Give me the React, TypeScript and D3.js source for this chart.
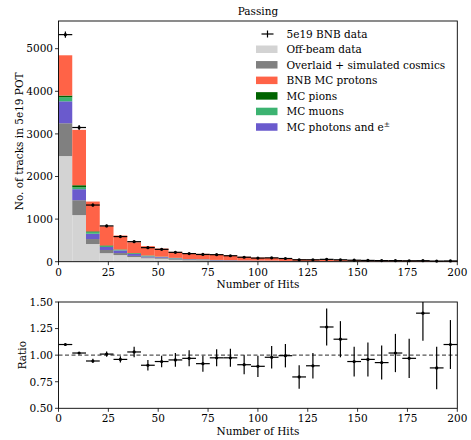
import React, { useEffect } from "react";
import * as d3 from "d3";

const binEdgesMin = 0;
const binEdgesMax = 200;
const nBins = 29;

const offBeam = [2480, 1094, 415, 200, 155, 108, 80, 70, 45, 30, 28, 15, 12, 10, 8, 5, 5, 3, 3, 2, 2, 0, 0, 0, 0, 0, 0, 0, 0];
const cosmics = [770, 350, 117, 75, 48, 28, 22, 20, 18, 14, 14, 12, 10, 8, 7, 10, 6, 8, 5, 5, 4, 4, 4, 3, 3, 2, 2, 2, 1];
const photons = [515, 258, 124, 70, 62, 45, 22, 18, 14, 12, 10, 10, 10, 8, 8, 6, 5, 4, 3, 3, 2, 2, 2, 2, 1, 1, 1, 1, 1];
const muons = [95, 46, 40, 22, 15, 16, 18, 8, 10, 4, 4, 3, 3, 2, 2, 2, 1, 1, 3, 2, 2, 5, 1, 1, 1, 1, 0, 0, 0];
const pions = [40, 47, 16, 15, 8, 6, 5, 4, 3, 2, 2, 2, 1, 1, 1, 1, 1, 1, 0, 1, 1, 0, 0, 0, 0, 0, 0, 0, 0];
const protons = [945, 1300, 700, 450, 326, 253, 218, 188, 140, 134, 127, 127, 108, 86, 69, 68, 57, 40, 36, 30, 28, 26, 24, 22, 20, 19, 14, 14, 14];
const dataCounts = [5330, 3150, 1330, 840, 590, 470, 330, 290, 220, 190, 170, 165, 140, 105, 85, 90, 75, 45, 45, 55, 45, 35, 30, 26, 25, 22, 24, 15, 18];

const ratio = [1.10, 1.02, 0.945, 1.01, 0.96, 1.03, 0.905, 0.94, 0.955, 0.97, 0.92, 0.975, 0.975, 0.91, 0.895, 0.98, 0.995, 0.795, 0.90, 1.265, 1.15, 0.94, 0.96, 0.93, 1.02, 0.97, 1.395, 0.88, 1.10];
const ratioErr = [0.01, 0.01, 0.02, 0.025, 0.03, 0.05, 0.05, 0.055, 0.065, 0.075, 0.075, 0.08, 0.085, 0.09, 0.10, 0.105, 0.11, 0.11, 0.12, 0.175, 0.17, 0.14, 0.16, 0.16, 0.18, 0.185, 0.26, 0.20, 0.23];

const xTicks = [0, 25, 50, 75, 100, 125, 150, 175, 200];
const yTicksTop = [0, 1000, 2000, 3000, 4000, 5000];
const yTicksRatio = [0.5, 0.75, 1.0, 1.25, 1.5];

const seriesNames = ["Off-beam data", "Overlaid + simulated cosmics", "MC photons and e", "MC muons", "MC pions", "BNB MC protons"];
const seriesColors = ["#d3d3d3", "#808080", "#6a5acd", "#3cb371", "#006400", "#ff6347"];
const seriesData = [offBeam, cosmics, photons, muons, pions, protons];
const legendOrder = [0, 1, 5, 4, 3, 2];

const FONT = "DejaVu Serif";

export default function App() {
  useEffect(() => {
    document.body.style.margin = "0";
  }, []);

  const L = 58.5, R = 457.3;
  const x = d3.scaleLinear().domain([binEdgesMin, binEdgesMax]).range([L, R]);
  const yTop = d3.scaleLinear().domain([0, 5650]).range([261.7, 21]);
  const yRat = d3.scaleLinear().domain([0.5, 1.5]).range([408.3, 302]);
  const bw = (binEdgesMax - binEdgesMin) / nBins;
  const bins = d3.range(nBins).map((i) => binEdgesMin + i * bw);

  const stackInput = bins.map((b, i) => {
    const o: any = { i };
    seriesData.forEach((s, k) => (o[k] = s[i]));
    return o;
  });
  const stacked = d3.stack<any>().keys(seriesData.map((_, k) => String(k)))(stackInput);

  const tickFs = 10.5;

  return (
    <svg width={471} height={440} style={{ display: "block", fontFamily: FONT }}>
      <rect width={471} height={440} fill="white" />
      <text x={(L + R) / 2} y={15} fontSize={10.5} textAnchor="middle" fill="#000">Passing</text>

      {stacked.map((layer, k) => (
        <g key={k} fill={seriesColors[k]}>
          {layer.map((d, i) => (
            <rect key={i} x={x(bins[i])} width={x(bins[i] + bw) - x(bins[i])} y={yTop(d[1])} height={Math.max(0, yTop(d[0]) - yTop(d[1]))} />
          ))}
        </g>
      ))}

      <g stroke="#000" strokeWidth={1.2}>
        {dataCounts.map((v, i) => {
          const cx = x(bins[i] + bw / 2);
          const e = Math.sqrt(v);
          return (
            <g key={i}>
              <line x1={x(bins[i])} x2={x(bins[i] + bw)} y1={yTop(v)} y2={yTop(v)} />
              <line x1={cx} x2={cx} y1={yTop(v + e)} y2={yTop(v - e)} />
              <circle cx={cx} cy={yTop(v)} r={1.6} fill="#000" stroke="none" />
            </g>
          );
        })}
      </g>

      <rect x={L} y={21} width={R - L} height={261.7 - 21} fill="none" stroke="#000" strokeWidth={0.9} />
      {xTicks.map((t) => (
        <g key={t}>
          <line x1={x(t)} x2={x(t)} y1={261.7} y2={265.2} stroke="#000" strokeWidth={0.8} />
          <text x={x(t)} y={275.5} fontSize={tickFs} textAnchor="middle">{t}</text>
        </g>
      ))}
      {yTicksTop.map((t) => (
        <g key={t}>
          <line x1={L - 3.5} x2={L} y1={yTop(t)} y2={yTop(t)} stroke="#000" strokeWidth={0.8} />
          <text x={L - 5.5} y={yTop(t) + 3.8} fontSize={tickFs} textAnchor="end">{t}</text>
        </g>
      ))}
      <text x={(L + R) / 2} y={288} fontSize={tickFs} textAnchor="middle">Number of Hits</text>
      <text transform={`translate(23,${(21 + 261.7) / 2}) rotate(-90)`} fontSize={tickFs} textAnchor="middle">No. of tracks in 5e19 POT</text>

      <g fontSize={10.5}>
        <g stroke="#000" strokeWidth={1.2}>
          <line x1={261.5} x2={273.5} y1={34} y2={34} />
          <line x1={267.5} x2={267.5} y1={30.5} y2={37.5} />
        </g>
        <text x={286.5} y={37.8}>5e19 BNB data</text>
        {legendOrder.map((k, j) => {
          const cy = 49.3 + j * 15.55;
          return (
            <g key={k}>
              <rect x={256} y={cy - 3.8} width={21.5} height={7.5} fill={seriesColors[k]} />
              <text x={286.5} y={cy + 3.8}>
                {seriesNames[k]}
                {k === 2 ? <tspan dy={-4} fontSize={7.5}>±</tspan> : null}
              </text>
            </g>
          );
        })}
      </g>

      <line x1={L} x2={R} y1={yRat(1)} y2={yRat(1)} stroke="#555" strokeWidth={1.1} strokeDasharray="4,2.5" />
      <g stroke="#000" strokeWidth={1.2}>
        {ratio.map((v, i) => {
          const cx = x(bins[i] + bw / 2);
          const e = ratioErr[i];
          return (
            <g key={i}>
              <line x1={x(bins[i])} x2={x(bins[i] + bw)} y1={yRat(v)} y2={yRat(v)} />
              <line x1={cx} x2={cx} y1={yRat(Math.min(1.5, v + e))} y2={yRat(Math.max(0.5, v - e))} />
              <circle cx={cx} cy={yRat(v)} r={1.6} fill="#000" stroke="none" />
            </g>
          );
        })}
      </g>
      <rect x={L} y={302} width={R - L} height={408.3 - 302} fill="none" stroke="#000" strokeWidth={0.9} />
      {xTicks.map((t) => (
        <g key={t}>
          <line x1={x(t)} x2={x(t)} y1={408.3} y2={411.8} stroke="#000" strokeWidth={0.8} />
          <text x={x(t)} y={422} fontSize={tickFs} textAnchor="middle">{t}</text>
        </g>
      ))}
      {yTicksRatio.map((t) => (
        <g key={t}>
          <line x1={L - 3.5} x2={L} y1={yRat(t)} y2={yRat(t)} stroke="#000" strokeWidth={0.8} />
          <text x={L - 5.5} y={yRat(t) + 3.8} fontSize={tickFs} textAnchor="end">{t.toFixed(2)}</text>
        </g>
      ))}
      <text x={(L + R) / 2} y={434.5} fontSize={tickFs} textAnchor="middle">Number of Hits</text>
      <text transform={`translate(26,${(302 + 408.3) / 2}) rotate(-90)`} fontSize={tickFs} textAnchor="middle">Ratio</text>
    </svg>
  );
}
